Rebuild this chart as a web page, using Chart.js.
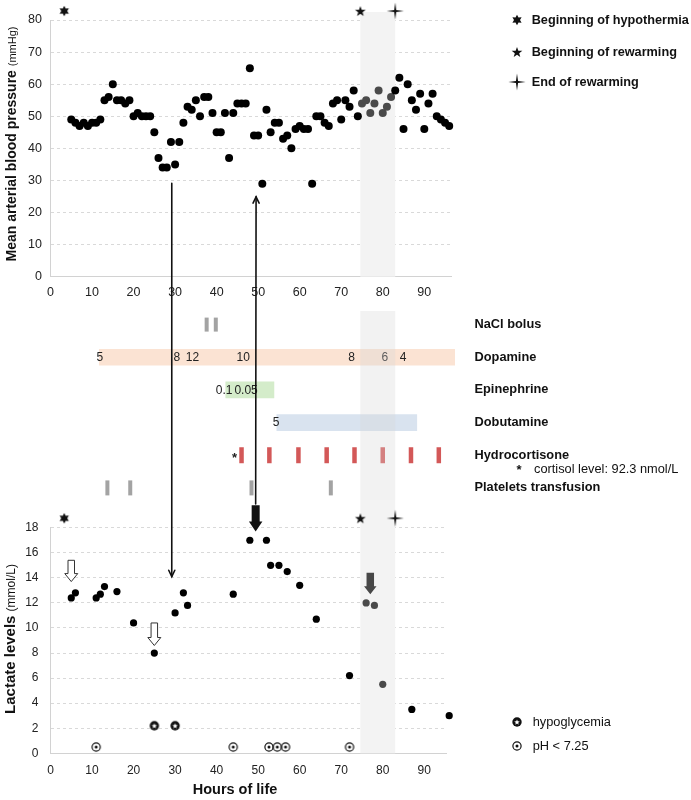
<!DOCTYPE html>
<html>
<head>
<meta charset="utf-8">
<title>Blood pressure, treatments and lactate</title>
<script src="https://cdn.jsdelivr.net/npm/chart.js"></script>
<style>
  html,body{margin:0;padding:0;background:#fff;}
  body{position:relative;width:691px;height:800px;overflow:hidden;font-family:"Liberation Sans",Arial,Helvetica,sans-serif;color:#111;}
  canvas{position:absolute;display:block;}
  .lbl{position:absolute;white-space:nowrap;line-height:14px;height:14px;}
  .rot{position:absolute;white-space:nowrap;transform:translate(-50%,-50%) rotate(-90deg);line-height:16px;}
</style>
</head>
<body>
<canvas id="bp" width="460" height="305" style="left:0;top:0"></canvas>
<canvas id="tx" width="691" height="189" style="left:0;top:311px"></canvas>
<canvas id="lac" width="460" height="300" style="left:0;top:500px"></canvas>
<canvas id="ov" width="691" height="800" style="left:0;top:0;pointer-events:none"></canvas>
<script>
// ================= DATA =================
const bpHours  = [5,6,7,8,9,10,11,12,13,14,15,16,17,18,19,20,21,22,23,24,25,26,27,28,29,30,31,32,33,34,35,36,37,38,39,40,41,42,43,44,45,46,47,48,49,50,51,52,53,54,55,56,57,58,59,60,61,62,63,64,65,66,67,68,69,70,71,72,73,74,75,76,77,78,79,80,81,82,83,84,85,86,87,88,89,90,91,92,93,94,95,96];
const bpValues = [49,48,47,48,47,48,48,49,55,56,60,55,55,54,55,50,51,50,50,50,45,37,34,34,42,35,42,48,53,52,55,50,56,56,51,45,45,51,37,51,54,54,54,65,44,44,29,52,45,48,48,43,44,40,46,47,46,46,29,50,50,48,47,54,55,49,55,53,58,50,54,55,51,54,58,51,53,56,58,62,46,60,55,52,57,46,54,57,50,49,48,47];

const lacHours  = [5,6,11,12,13,16,20,25,30,32,33,44,48,52,53,55,57,60,64,72,76,78,80,87,96];
const lacValues = [12.4,12.8,12.4,12.7,13.3,12.9,10.4,8.0,11.2,12.8,11.8,12.7,17.0,17.0,15.0,15.0,14.5,13.4,10.7,6.2,12.0,11.8,5.5,3.5,3.0];

const hypoglycemiaHours  = [25, 30];
const hypoglycemiaValues = [2.2, 2.2];
const lowPhHours  = [11, 44, 52.6, 54.6, 56.6, 72];
const lowPhValues = [0.5, 0.5, 0.5, 0.5, 0.5, 0.5];

const eventNames = ['Beginning of hypothermia', 'Beginning of rewarming', 'End of rewarming'];
const eventKinds = ['hypothermia', 'rewarmStart', 'rewarmEnd'];
const eventHours = [3.3, 74.6, 83.0];
const rewarming  = [74.6, 83.0];
const bpMarkerLevel  = 82.8;   // mmHg row where the event symbols sit
const lacMarkerLevel = 18.75;  // mmol/L row where the event symbols sit

const xTickStep = 10;
const bpRange  = [0, 80];
const bpStep   = 10;
const lacRange = [0, 18];
const lacStep  = 2;
const bpHourMax  = 96.6;
const lacHourMax = 95.4;
const txHourMax  = 97.4;

const therapies = ['NaCl bolus', 'Dopamine', 'Epinephrine', 'Dobutamine', 'Hydrocortisone', 'Platelets transfusion'];
const naclHours          = [37.6, 39.8];
const plateletHours      = [13.7, 19.2, 48.4, 67.5];
const hydrocortisoneHours = [46.0, 52.7, 59.7, 66.5, 73.2, 80.0, 86.8, 93.5];
const dopamineSpan    = [11.75, 97.4];
const epinephrineSpan = [42.2, 53.8];
const dobutamineSpan  = [54.5, 88.2];
const dopamineDoseHours    = [11.85, 30.4, 34.2, 46.4, 72.5, 80.5, 84.9];
const dopamineDoses        = ['5', '8', '12', '10', '8', '6', '4'];
const epinephrineDoseHours = [41.8, 47.1];
const epinephrineDoses     = ['0.1', '0.05'];
const dobutamineDoseHours  = [54.3];
const dobutamineDoses      = ['5'];
const cortisolMarkHour = 44.3;
const cortisolNote = 'cortisol level: 92.3 nmol/L';

// arrows linking pressure and lactate panels (chart, hour, value)
const linkArrows = [
  {fromChart: 'bp',  fromHour: 29.2, fromValue: 29.1, toChart: 'lac', toHour: 29.2, toValue: 14.1},
  {fromChart: 'lac', fromHour: 49.4, fromValue: 19.9, toChart: 'bp',  toHour: 49.5, toValue: 24.9}
];
// block arrows inside the lactate panel
const blockArrowHours = [5, 25, 49.4, 77.0];
const blockArrowFrom  = [15.4, 10.4, 19.8, 14.4];
const blockArrowTo    = [13.7, 8.6, 17.7, 12.7];
const blockArrowKinds = ['hollow', 'hollow', 'black', 'gray'];

// ================= STYLE =================
const FONT = '"Liberation Sans", Arial, Helvetica, sans-serif';
Chart.defaults.font.family = FONT;
Chart.defaults.color = '#222';
Chart.defaults.animation = false;

const BAND_COLOR = '#f3f3f3';
const BAND_DOT = '#4a4a4a';
const inBand = h => h > rewarming[0] && h < rewarming[1];

function starPath(g, cx, cy, n, rOut, rIn) {
  g.beginPath();
  for (let i = 0; i < 2 * n; i++) {
    const r = i % 2 === 0 ? rOut : rIn;
    const a = -Math.PI / 2 + i * Math.PI / n;
    g.lineTo(cx + r * Math.cos(a), cy + r * Math.sin(a));
  }
  g.closePath();
}
function makeSymbol(kind) {
  const c = document.createElement('canvas');
  c.width = 22; c.height = 22;
  const g = c.getContext('2d');
  g.fillStyle = '#111'; g.strokeStyle = '#111';
  if (kind === 'hypothermia') { starPath(g, 11, 11, 6, 5.3, 3.0); g.fill(); }
  else if (kind === 'rewarmStart') { starPath(g, 11, 11.5, 5, 5.6, 2.3); g.fill(); }
  else if (kind === 'rewarmEnd') { starPath(g, 11, 11, 4, 8.6, 1.5); g.fill(); }
  else if (kind === 'hypo') {
    g.beginPath(); g.arc(11, 11, 4.7, 0, Math.PI * 2); g.fill();
    g.fillStyle = '#fff'; starPath(g, 11, 11.3, 5, 2.9, 1.25); g.fill();
  } else if (kind === 'ph') {
    g.lineWidth = 1.2; g.beginPath(); g.arc(11, 11, 4.1, 0, Math.PI * 2); g.stroke();
    g.beginPath(); g.arc(11, 11, 1.5, 0, Math.PI * 2); g.fill();
  }
  return c;
}
const eventSymbols = eventKinds.map(makeSymbol);

function drawBand(chart, opts) {
  const {ctx, chartArea, scales: {x}} = chart;
  const x0 = x.getPixelForValue(rewarming[0]);
  const x1 = x.getPixelForValue(rewarming[1]);
  const top = opts.fromCanvasTop ? 0 : chartArea.top - (opts.extendTop || 0);
  const bottom = opts.toCanvasBottom ? chart.height : chartArea.bottom;
  ctx.save();
  ctx.fillStyle = opts.color;
  ctx.fillRect(x0, top, x1 - x0, bottom - top);
  ctx.restore();
}
const bandPlugin = {
  id: 'rewarmBand',
  beforeDatasetsDraw(chart, args, opts) { if (!opts.overlay) drawBand(chart, opts); },
  afterDraw(chart, args, opts) { if (opts.overlay) drawBand(chart, opts); }
};

function xScale(max, tickSize, tickPad, height) {
  return {
    type: 'linear', min: 0, max: max, offset: false,
    ticks: {stepSize: xTickStep, includeBounds: false, padding: tickPad, font: {size: tickSize}, color: '#222', maxRotation: 0},
    grid: {display: false, drawTicks: false},
    border: {display: true, color: '#d2d2d2', width: 1},
    afterFit: s => { s.height = height; s.paddingLeft = 0; s.paddingRight = 0; }
  };
}
function yScale(range, step, tickSize, tickPad) {
  return {
    type: 'linear', min: range[0], max: range[1],
    ticks: {stepSize: step, padding: tickPad, font: {size: tickSize}, color: '#222'},
    grid: {color: '#d9d9d9', drawTicks: false, lineWidth: 1},
    border: {display: true, color: '#d2d2d2', dash: [3, 3]},
    afterFit: s => { s.width = 50.5; s.paddingTop = 0; s.paddingBottom = 0; }
  };
}
const basePlugins = {legend: {display: false}, tooltip: {enabled: false}};

// ================= PRESSURE CHART =================
const bpChart = new Chart(document.getElementById('bp'), {
  type: 'scatter',
  data: {
    datasets: [
      {
        data: bpHours.map((h, i) => ({x: h, y: bpValues[i]})),
        pointRadius: 4, pointBorderWidth: 0, clip: false,
        pointBackgroundColor: c => (c.raw && inBand(c.raw.x)) ? BAND_DOT : '#000'
      },
      {
        data: eventHours.map(h => ({x: h, y: bpMarkerLevel})),
        pointStyle: eventSymbols, pointRadius: 12, pointBorderWidth: 0, clip: false
      }
    ]
  },
  options: {
    responsive: false, animation: false, events: [],
    layout: {autoPadding: false, padding: {top: 20, right: 8.3, left: 0, bottom: 0}},
    plugins: Object.assign({}, basePlugins, {rewarmBand: {color: BAND_COLOR, extendTop: 8}}),
    scales: {
      x: xScale(bpHourMax, 12.5, 8.5, 28.3),
      y: yScale(bpRange, bpStep, 12.5, 8.5)
    }
  },
  plugins: [bandPlugin]
});

// ================= TREATMENT CHART =================
const doseGroups = [
  {row: 'Dopamine', hours: dopamineDoseHours, doses: dopamineDoses},
  {row: 'Epinephrine', hours: epinephrineDoseHours, doses: epinephrineDoses},
  {row: 'Dobutamine', hours: dobutamineDoseHours, doses: dobutamineDoses}
];
const doseLabelPlugin = {
  id: 'doseLabels',
  afterDatasetsDraw(chart) {
    const {ctx, scales: {x, y}} = chart;
    ctx.save();
    ctx.font = '12px ' + FONT;
    ctx.fillStyle = '#222';
    ctx.textAlign = 'center';
    ctx.textBaseline = 'middle';
    doseGroups.forEach(gr => gr.hours.forEach((h, i) => {
      ctx.fillText(gr.doses[i], x.getPixelForValue(h), y.getPixelForValue(gr.row) + 0.5);
    }));
    ctx.font = 'bold 13px ' + FONT;
    ctx.fillText('*', x.getPixelForValue(cortisolMarkHour), y.getPixelForValue('Hydrocortisone') + 3);
    ctx.restore();
  }
};
function spanBar(row, span, color) {
  return {
    type: 'bar', indexAxis: 'y', grouped: false, barThickness: 16,
    data: [{y: row, x: span}],
    backgroundColor: color, borderWidth: 0, borderSkipped: false
  };
}
function tickMarks(row, hours, color, halfLen, width) {
  return {
    type: 'scatter', indexAxis: 'x', clip: false,
    data: hours.map(h => ({x: h, y: row})),
    pointStyle: 'line', pointRotation: 90, pointRadius: halfLen,
    pointBorderColor: color, pointBorderWidth: width, pointBackgroundColor: color
  };
}
const txChart = new Chart(document.getElementById('tx'), {
  type: 'bar',
  data: {
    labels: therapies,
    datasets: [
      spanBar('Dopamine', dopamineSpan, '#fbe3d3'),
      spanBar('Epinephrine', epinephrineSpan, '#d4ecca'),
      spanBar('Dobutamine', dobutamineSpan, '#d9e3ef'),
      tickMarks('NaCl bolus', naclHours, '#a3a3a3', 7, 4),
      tickMarks('Hydrocortisone', hydrocortisoneHours, '#d35858', 8, 4.5),
      tickMarks('Platelets transfusion', plateletHours, '#a3a3a3', 7.5, 4)
    ]
  },
  options: {
    responsive: false, animation: false, events: [],
    layout: {autoPadding: false, padding: {top: 13.6, right: 0, left: 50.5, bottom: 12.1}},
    plugins: Object.assign({}, basePlugins, {rewarmBand: {overlay: true, fromCanvasTop: true, toCanvasBottom: true, color: 'rgba(214,214,214,0.32)'}}),
    scales: {
      x: {type: 'linear', min: 0, max: txHourMax, display: false, offset: false},
      y: {
        type: 'category', labels: therapies, position: 'right', offset: false,
        grid: {display: false, drawTicks: false}, border: {display: false},
        ticks: {padding: 19.5, font: {size: 12.8, weight: 'bold'}, color: '#111'},
        afterFit: s => { s.width = 236; s.paddingTop = 0; s.paddingBottom = 0; }
      }
    }
  },
  plugins: [doseLabelPlugin, bandPlugin]
});

// ================= LACTATE CHART =================
function blockArrow(g, x, yTop, yTip, kind) {
  const spec = {
    hollow: {shaft: 6.5, head: 13, headH: 8, fill: '#fff', stroke: '#333'},
    black:  {shaft: 8, head: 13.5, headH: 10, fill: '#111', stroke: null},
    gray:   {shaft: 7.5, head: 12.5, headH: 8, fill: '#474747', stroke: null}
  }[kind];
  const s = spec.shaft / 2, h = spec.head / 2, yh = yTip - spec.headH;
  g.save();
  g.beginPath();
  g.moveTo(x - s, yTop); g.lineTo(x + s, yTop); g.lineTo(x + s, yh); g.lineTo(x + h, yh);
  g.lineTo(x, yTip); g.lineTo(x - h, yh); g.lineTo(x - s, yh); g.closePath();
  g.fillStyle = spec.fill; g.fill();
  if (spec.stroke) { g.strokeStyle = spec.stroke; g.lineWidth = 1; g.stroke(); }
  g.restore();
}
const blockArrowPlugin = {
  id: 'blockArrows',
  afterDatasetsDraw(chart) {
    const {ctx, scales: {x, y}} = chart;
    blockArrowHours.forEach((h, i) => {
      blockArrow(ctx, x.getPixelForValue(h), y.getPixelForValue(blockArrowFrom[i]), y.getPixelForValue(blockArrowTo[i]), blockArrowKinds[i]);
    });
  }
};
const hypoSymbol = makeSymbol('hypo');
const phSymbol = makeSymbol('ph');
const lacChart = new Chart(document.getElementById('lac'), {
  type: 'scatter',
  data: {
    datasets: [
      {
        data: lacHours.map((h, i) => ({x: h, y: lacValues[i]})),
        pointRadius: 3.6, pointBorderWidth: 0, clip: false,
        pointBackgroundColor: c => (c.raw && inBand(c.raw.x)) ? BAND_DOT : '#000'
      },
      {
        data: hypoglycemiaHours.map((h, i) => ({x: h, y: hypoglycemiaValues[i]})),
        pointStyle: hypoSymbol, pointRadius: 6, pointBorderWidth: 0, clip: false
      },
      {
        data: lowPhHours.map((h, i) => ({x: h, y: lowPhValues[i]})),
        pointStyle: phSymbol, pointRadius: 6, pointBorderWidth: 0, clip: false
      },
      {
        data: eventHours.map(h => ({x: h, y: lacMarkerLevel})),
        pointStyle: eventSymbols, pointRadius: 12, pointBorderWidth: 0, clip: false
      }
    ]
  },
  options: {
    responsive: false, animation: false, events: [],
    layout: {autoPadding: false, padding: {top: 27.7, right: 13.3, left: 0, bottom: 0}},
    plugins: Object.assign({}, basePlugins, {rewarmBand: {color: BAND_COLOR, fromCanvasTop: true}}),
    scales: {
      x: xScale(lacHourMax, 12, 10.5, 46.7),
      y: yScale(lacRange, lacStep, 12, 12)
    }
  },
  plugins: [bandPlugin, blockArrowPlugin]
});

// ================= LINK ARROWS (overlay) =================
const charts = {bp: bpChart, lac: lacChart};
const chartOffsets = {bp: [0, 0], lac: [0, 500]};
function pagePoint(name, hour, value) {
  const ch = charts[name];
  return [chartOffsets[name][0] + ch.scales.x.getPixelForValue(hour),
          chartOffsets[name][1] + ch.scales.y.getPixelForValue(value)];
}
(function drawLinks() {
  const g = document.getElementById('ov').getContext('2d');
  g.strokeStyle = '#111';
  g.lineWidth = 1.6;
  g.lineCap = 'round';
  linkArrows.forEach(a => {
    const [x0, y0] = pagePoint(a.fromChart, a.fromHour, a.fromValue);
    const [x1, y1] = pagePoint(a.toChart, a.toHour, a.toValue);
    g.beginPath(); g.moveTo(x0, y0); g.lineTo(x1, y1); g.stroke();
    const ang = Math.atan2(y1 - y0, x1 - x0), L = 7, w = 0.45;
    g.beginPath();
    g.moveTo(x1 - L * Math.cos(ang - w), y1 - L * Math.sin(ang - w));
    g.lineTo(x1, y1);
    g.lineTo(x1 - L * Math.cos(ang + w), y1 - L * Math.sin(ang + w));
    g.stroke();
  });
})();

// ================= HTML TEXT (titles, legends, note) =================
function addText(html, left, centerY, css) {
  const d = document.createElement('div');
  d.className = 'lbl';
  d.innerHTML = html;
  d.style.left = left + 'px';
  d.style.top = (centerY - 7) + 'px';
  if (css) d.style.cssText += css;
  document.body.appendChild(d);
  return d;
}
function addSymbol(symbolCanvas, cx, cy) {
  const c = document.createElement('canvas');
  c.width = symbolCanvas.width; c.height = symbolCanvas.height;
  c.getContext('2d').drawImage(symbolCanvas, 0, 0);
  c.style.left = (cx - c.width / 2) + 'px';
  c.style.top = (cy - c.height / 2) + 'px';
  document.body.appendChild(c);
}
function addRotated(html, cx, cy) {
  const d = document.createElement('div');
  d.className = 'rot';
  d.innerHTML = html;
  d.style.left = cx + 'px';
  d.style.top = cy + 'px';
  document.body.appendChild(d);
}

const legendY = [20, 51.5, 81.7];
eventNames.forEach((name, i) => {
  addSymbol(eventSymbols[i], 517.3, legendY[i]);
  addText(name, 531.7, legendY[i], 'font-weight:bold;font-size:12.7px;');
});

addRotated('<span style="font-weight:bold;font-size:14px">Mean arterial blood pressure </span><span style="font-size:11px">(mmHg)</span>', 11, 143.5);
addRotated('<span style="font-weight:bold;font-size:15px">Lactate levels </span><span style="font-size:12px">(mmol/L)</span>', 9.5, 639);
addText('Hours of life', 0, 788, 'font-weight:bold;font-size:14.5px;width:470px;text-align:center;line-height:16px;height:16px;');

addText('*', 516.5, 470, 'font-weight:bold;font-size:13px;');
addText(cortisolNote, 534, 468.5, 'font-size:12.8px;');

addSymbol(hypoSymbol, 517.3, 722);
addText('hypoglycemia', 532.7, 722, 'font-size:12.8px;');
addSymbol(phSymbol, 517.3, 745.7);
addText('pH &lt; 7.25', 532.7, 745.7, 'font-size:12.8px;');
</script>
</body>
</html>
